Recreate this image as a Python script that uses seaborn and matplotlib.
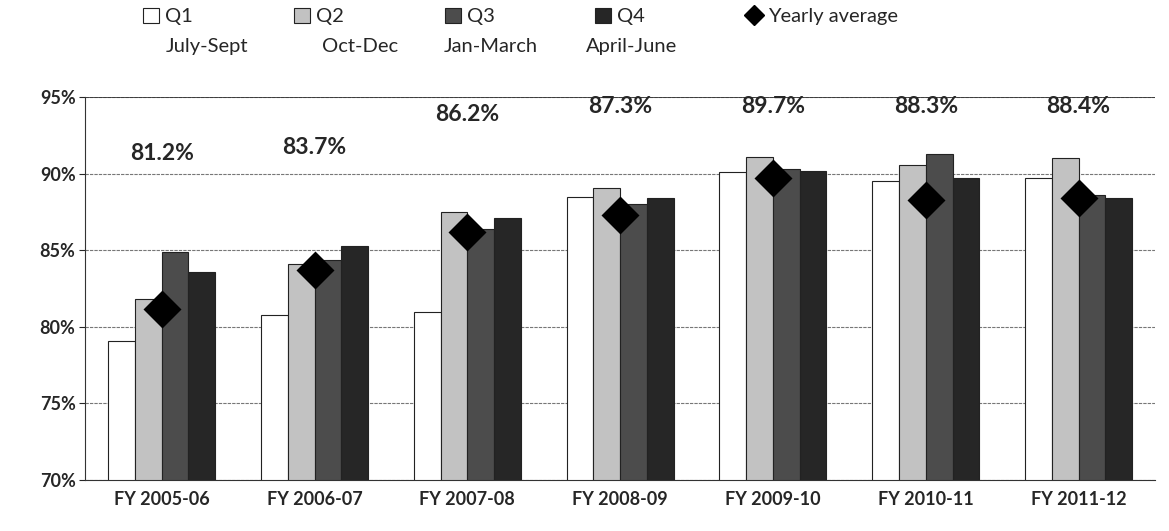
import numpy as np
import pandas as pd
import matplotlib
matplotlib.use("Agg")
import matplotlib.pyplot as plt
import seaborn as sns
from matplotlib.patches import Patch
from matplotlib.lines import Line2D

# data
years = ['FY 2005-06', 'FY 2006-07', 'FY 2007-08', 'FY 2008-09',
         'FY 2009-10', 'FY 2010-11', 'FY 2011-12']
quarters = ['Q1', 'Q2', 'Q3', 'Q4']
quarter_months = ['July-Sept', 'Oct-Dec', 'Jan-March', 'April-June']
q1 = [79.1, 80.8, 81.0, 88.5, 90.1, 89.5, 89.7]
q2 = [81.8, 84.1, 87.5, 89.1, 91.1, 90.6, 91.0]
q3 = [84.9, 84.4, 86.4, 88.0, 90.3, 91.3, 88.6]
q4 = [83.6, 85.3, 87.1, 88.4, 90.2, 89.7, 88.4]
yearly_avg = [81.2, 83.7, 86.2, 87.3, 89.7, 88.3, 88.4]
yticks = [70, 75, 80, 85, 90, 95]

sns.set_style("white")
plt.rcParams['font.family'] = ['Lato', 'DejaVu Sans']

df = pd.DataFrame({'year': years * 4,
                   'quarter': np.repeat(quarters, len(years)),
                   'value': q1 + q2 + q3 + q4})
avg_df = pd.DataFrame({'year': years, 'avg': yearly_avg})

colors = ['#ffffff', '#c2c2c2', '#4c4c4c', '#262626']

fig = plt.figure(figsize=(11.69, 5.31), dpi=100)
ax = fig.add_axes([0.073, 0.096, 0.915, 0.721])

sns.barplot(data=df, x='year', y='value', hue='quarter', palette=colors,
            width=0.7, edgecolor='#222222', linewidth=0.8, legend=False, ax=ax)
sns.pointplot(data=avg_df, x='year', y='avg', color='black', markers='D',
              markersize=17, linestyle='none', ax=ax)

# percentage labels above each group
tops = np.max([q1, q2, q3, q4], axis=0)
for i, (t, a) in enumerate(zip(tops, yearly_avg)):
    ax.text(i, min(t + 6.4, 94.4), f'{a:.1f}%', ha='center', va='center',
            fontsize=16.5, fontweight='bold')

ax.set_ylim(70, 95)
ax.set_xlim(-0.5, 6.5)
ax.set_yticks(yticks)
ax.set_yticklabels([f'{v}%' for v in yticks], fontsize=13, fontweight='bold')
ax.tick_params(axis='x', labelsize=13, length=0, pad=8)
for lab in ax.get_xticklabels():
    lab.set_fontweight('bold')
ax.tick_params(axis='y', length=4, left=True, pad=3)
ax.set_xlabel('')
ax.set_ylabel('')
ax.yaxis.grid(True, color='#777777', linestyle=(0, (3, 1)), linewidth=0.8)
ax.axhline(95, color='#333333', linewidth=1.2)
ax.set_axisbelow(True)
for s in ['top', 'right']:
    ax.spines[s].set_visible(False)
ax.spines['left'].set_color('#333333')
ax.spines['bottom'].set_color('#333333')

# legend
handles = [Patch(facecolor=c, edgecolor='#222222', linewidth=0.8) for c in colors]
handles.append(Line2D([], [], marker='D', color='black', linestyle='none', markersize=10))
labels = quarters + ['Yearly average']
fig.legend(handles, labels, loc='upper left', bbox_to_anchor=(0.107, 1.02), ncol=5,
           frameon=False, fontsize=14.5, handlelength=0.8, handleheight=0.8,
           handletextpad=0.3, columnspacing=5.0)
for x, m in zip([0.177, 0.308, 0.42, 0.54], quarter_months):
    fig.text(x, 0.912, m, ha='center', va='center', fontsize=14.5)

fig.savefig('out.png', dpi=100)
